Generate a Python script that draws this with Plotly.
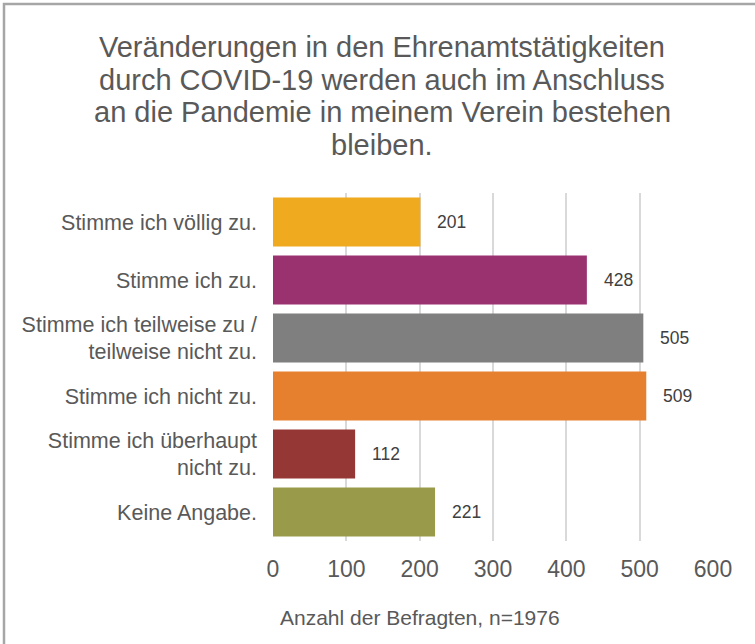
import plotly.graph_objects as go

categories = [
    "Stimme ich völlig zu.",
    "Stimme ich zu.",
    "Stimme ich teilweise zu /<br>teilweise nicht zu.",
    "Stimme ich nicht zu.",
    "Stimme ich überhaupt<br>nicht zu.",
    "Keine Angabe.",
]
values = [201, 428, 505, 509, 112, 221]
colors = ["#EFAA1F", "#9B3270", "#7F7F7F", "#E6802F", "#953735", "#9A9B4A"]
tick_vals = [0, 100, 200, 300, 400, 500, 600]

title_lines = [
    "Veränderungen in den Ehrenamtstätigkeiten",
    "durch COVID-19 werden auch im Anschluss",
    "an die Pandemie in meinem Verein bestehen",
    "bleiben.",
]
x_title = "Anzahl der Befragten, n=1976"

W, H = 755, 644
L, R, T, B = 273, 42, 193, 103
pw, ph = W - L - R, H - T - B

def px_x(p):
    return (p - L) / pw

def px_y(p):
    return (H - B - p) / ph

font_family = "Liberation Sans, Arial, sans-serif"
text_color = "#595959"

fig = go.Figure()
fig.add_trace(go.Bar(
    y=categories, x=values, orientation="h",
    marker=dict(color=colors, line=dict(width=0)),
    hoverinfo="skip",
))

annotations = []
for c, v in zip(categories, values):
    annotations.append(dict(
        x=v, y=c, xref="x", yref="y", text=str(v), showarrow=False,
        xanchor="left", yanchor="middle", xshift=15,
        font=dict(size=17.5, color="#404040", family=font_family),
    ))
annotations.append(dict(
    x=px_x(420), y=px_y(617), xref="paper", yref="paper", text=x_title,
    showarrow=False, xanchor="center", yanchor="middle",
    font=dict(size=21, color=text_color, family=font_family),
))
for i, line in enumerate(title_lines):
    annotations.append(dict(
        x=px_x(382), y=px_y(47 + 32.7 * i), xref="paper", yref="paper",
        text=line, showarrow=False, xanchor="center", yanchor="middle",
        font=dict(size=29, color=text_color, family=font_family),
    ))

fig.update_layout(
    width=W, height=H,
    margin=dict(l=L, r=R, t=T, b=B),
    paper_bgcolor="white", plot_bgcolor="white",
    showlegend=False,
    bargap=0.155,
    xaxis=dict(
        range=[0, 600], tickvals=tick_vals,
        showgrid=True, gridcolor="#D9D9D9", gridwidth=1.5,
        zeroline=False, showline=False,
        tickfont=dict(size=23, color=text_color, family=font_family),
        ticklabelstandoff=12,
        fixedrange=True,
    ),
    yaxis=dict(
        autorange="reversed", showgrid=False, zeroline=False, showline=False,
        tickfont=dict(size=21.5, color=text_color, family=font_family),
        ticklabelstandoff=15,
        fixedrange=True,
    ),
    annotations=annotations,
    shapes=[dict(
        type="rect", xref="paper", yref="paper",
        x0=px_x(4), x1=px_x(W + 10), y0=px_y(H + 10), y1=px_y(4),
        line=dict(color="#A6A6A6", width=2.5), fillcolor="rgba(0,0,0,0)",
        layer="below",
    )],
)

fig.write_html(
    "out.html",
    config={"displayModeBar": False},
    post_script="document.body.style.margin='0px';",
)
